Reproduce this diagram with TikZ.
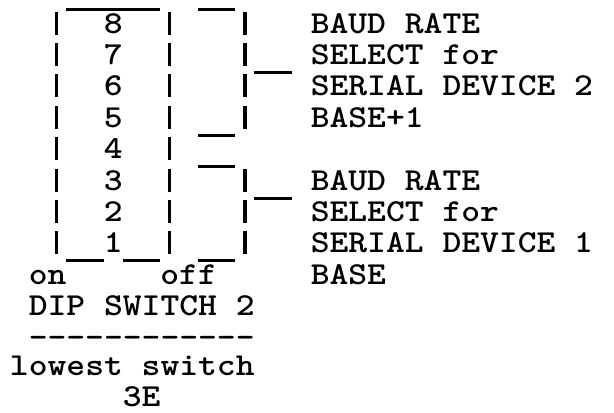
\documentclass[tikz,border=0pt]{standalone}
\usepackage{tikz}
\usetikzlibrary{positioning}

\newcommand{\typed}[1]{\scalebox{1.12}[1]{#1}}

\begin{document}
\begin{tikzpicture}[
  x=18.8pt, y=-31.4pt,
  txt/.style={inner sep=0pt, anchor=base west, font=\fontsize{32}{34}\selectfont\ttfamily\bfseries},
  num/.style={txt, anchor=base},
  bar/.style={line width=3.4pt, dash pattern=on 23pt off 8.4pt},
  uline/.style={line width=3pt}
]
\useasboundingbox (-0.521,-0.7325) rectangle (32.138,12.420);

\node[num] (d8) at (5.5,0.32) {\typed{8}};
\node[num] (d7) at (5.5,1.32) {\typed{7}};
\node[num] (d6) at (5.5,2.32) {\typed{6}};
\node[num] (d5) at (5.5,3.32) {\typed{5}};
\node[num] (d4) at (5.5,4.32) {\typed{4}};
\node[num] (d3) at (5.5,5.32) {\typed{3}};
\node[num] (d2) at (5.5,6.32) {\typed{2}};
\node[num] (d1) at (5.5,7.32) {\typed{1}};

\node[txt] (baud2) at (16,0.32) {\typed{BAUD RATE}};
\node[txt] (sel2)  at (16,1.32) {\typed{SELECT for}};
\node[txt] (ser2)  at (16,2.32) {\typed{SERIAL DEVICE 2}};
\node[txt] (base2) at (16,3.32) {\typed{BASE+1}};
\node[txt] (baud1) at (16,5.32) {\typed{BAUD RATE}};
\node[txt] (sel1)  at (16,6.32) {\typed{SELECT for}};
\node[txt] (ser1)  at (16,7.32) {\typed{SERIAL DEVICE 1}};
\node[txt] (base1) at (16,8.32) {\typed{BASE}};

\node[txt] (on)  at (1,8.32) {\typed{on}};
\node[txt] (off) at (8,8.32) {\typed{off}};
\node[txt] (dip) at (1,9.32) {\typed{DIP SWITCH 2}};
\node[txt] (sep) at (1,10.32) {\typed{------------}};
\node[txt] (low) at (0,11.24) {\typed{lowest switch}};
\node[txt] (loc) at (6,12.2) {\typed{3E}};

% switch body
\draw[bar] (2.5,-0.366) -- (2.5,7.366);
\draw[bar] (8.5,-0.366) -- (8.5,7.366);
\draw[uline] (3,-0.427) -- (8,-0.427);
\draw[uline] (3,7.573) -- (5,7.573);
\draw[uline] (6,7.573) -- (8,7.573);

% brackets
\draw[bar] (12.5,-0.366) -- (12.5,3.366);
\draw[bar] (12.5,4.634) -- (12.5,7.366);
\draw[uline] (10,-0.427) -- (12,-0.427);
\draw[uline] (10,3.573) -- (12,3.573);
\draw[uline] (10,4.573) -- (12,4.573);
\draw[uline] (10,7.573) -- (12,7.573);
\draw[uline] (13,1.573) -- (15,1.573);
\draw[uline] (13,5.573) -- (15,5.573);
\end{tikzpicture}
\end{document}
